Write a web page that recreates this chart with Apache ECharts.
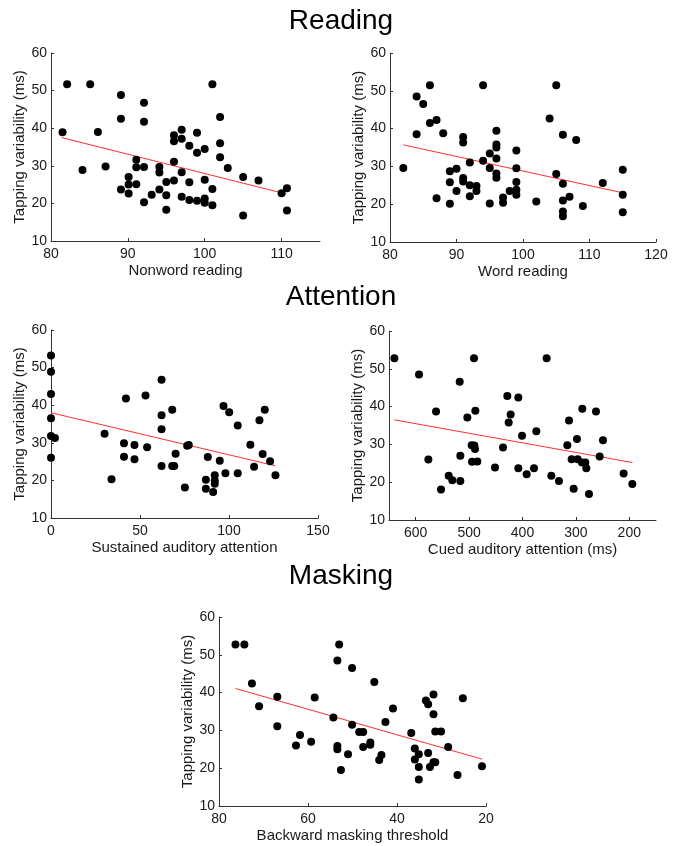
<!DOCTYPE html>
<html>
<head>
<meta charset="utf-8">
<script src="https://cdn.jsdelivr.net/npm/echarts@6/dist/echarts.min.js"></script>
<style>
html,body{margin:0;padding:0;background:#fff;}
#c{width:674px;height:846px;}
</style>
</head>
<body>
<div id="c"></div>
<script>
// ---- Data ----
var sectionTitles = ['Reading', 'Attention', 'Masking'];
var yAxisName = 'Tapping variability (ms)';
var yTicks = [10, 20, 30, 40, 50, 60];

// Panel 1: Nonword reading
var nonwordX = [81.5,82.1,85.1,84.1,86.1,87.1,89.1,89.1,89.1,90.1,90.1,90.1,91.1,91.1,91.1,92.1,92.1,92.1,92.1,93.1,94.1,94.1,94.1,95,95,95,96,96,96,96,97,97,97,97,98,98,98,99,99,99,100,100,100,100,101,101,101,102,102,102,103,105,105,107,110,110.7,110.7];
var nonwordY = [38.9,51.7,51.7,28.9,39.0,29.8,48.8,42.5,23.7,27.0,25.0,22.6,31.6,29.6,25.1,46.8,41.7,29.7,20.3,22.3,29.7,28.2,23.7,25.7,22.2,18.3,38.1,36.5,31.1,26.1,39.6,37.2,28.3,21.8,35.3,25.6,20.9,38.8,33.5,20.7,34.5,26.3,21.3,20.2,51.7,23.8,19.5,43.0,36.0,32.3,29.4,27.0,16.8,26.1,22.7,24.0,18.1];
var nonwordFitX = [81.4, 110.6];
var nonwordFitY = [37.5, 22.5];
var nonwordTicks = [80, 90, 100, 110];

// Panel 2: Word reading
var wordX = [82,84,84,85,86,86,87,87,88,89,89,89,90,90,91,91,91,91,92,92,92,93,93,94,94,95,95,95,96,96,96,96,96,96,97,97,98,99,99,99,99,99,102,104,105,105,106,106,106,106,106,107,108,109,112,115,115,115];
var wordY = [29.6,48.5,38.5,46.5,51.5,41.5,42.3,21.6,38.8,28.7,25.8,20.1,29.4,23.5,37.8,36.3,26.9,26.0,31.0,25.0,22.1,24.8,23.5,51.5,31.5,33.4,29.6,20.2,39.4,35.8,35.0,32.1,28.1,27.0,21.8,20.4,23.5,34.2,29.5,25.9,23.8,22.5,20.7,42.7,51.5,28.0,38.4,25.4,21.0,18.1,16.8,22.0,37.0,19.5,25.6,29.1,22.5,17.9];
var wordFitX = [82, 115.3];
var wordFitY = [35.7, 22.9];
var wordTicks = [80, 90, 100, 110, 120];

// Panel 3: Sustained auditory attention
var sustX = [0,0,0,0,0,0,2.2,30.1,34.0,41.0,41.0,42.1,46.9,46.9,53.1,54.0,62.1,62.1,62.1,62.1,68.1,68.1,69.2,70.0,75.2,76.5,77.4,87.0,87.0,88.1,91.1,92.0,92.0,92.0,94.8,96.9,98.0,100.1,104.9,104.9,112.0,114.1,117.1,118.9,120.1,123.1,126.1];
var sustY = [53.2,48.9,43.0,36.5,31.8,26.0,31.3,32.4,20.3,29.9,26.3,41.8,29.4,25.6,42.6,28.8,46.8,37.3,33.6,23.8,38.8,23.8,23.8,27.1,18.1,29.2,29.4,20.2,17.8,26.2,16.9,21.4,20.0,19.1,25.2,39.8,21.9,38.1,34.6,21.9,29.5,23.6,36.0,27.0,38.8,25.1,21.4];
var sustFitX = [0, 126];
var sustFitY = [38.0, 23.9];
var sustTicks = [0, 50, 100, 150];

// Panel 4: Cued auditory attention (ms)
var cuedX = [639.9,490.8,354.8,593.8,517.6,428.4,407.8,561.9,488.3,288.0,262.4,422.2,503.3,312.9,425.9,374.1,400.9,298.0,249.3,316.1,495.2,490.2,488.9,436.5,516.4,255.5,576.3,308.0,296.7,494.5,484.6,288.6,282.4,451.5,407.8,378.5,280.5,210.6,392.2,538.2,346.0,531.4,516.4,331.7,194.4,304.2,552.6,275.5];
var cuedY = [52.8,52.8,52.8,48.5,46.6,42.8,42.4,38.7,38.9,39.4,38.7,37.9,37.1,36.3,35.8,33.5,32.3,31.4,31.1,29.8,29.8,29.7,28.8,29.2,27.0,26.8,26.0,26.1,26.1,25.4,25.5,25.2,25.2,23.9,23.7,23.7,23.7,22.3,22.1,21.7,21.7,20.5,20.3,20.3,19.5,18.3,18.1,16.9];
var cuedFitX = [640, 194.4];
var cuedFitY = [36.5, 25.2];
var cuedTicks = [200, 300, 400, 500, 600];

// Panel 5: Backward masking threshold
var maskX = [76.3,74.3,72.6,71.0,66.9,66.9,62.7,61.8,59.3,58.5,54.3,53.4,53.4,53.4,53.0,52.6,51.0,50.1,50.1,48.5,47.6,47.6,46.0,46.0,45.1,44.0,43.5,42.6,40.9,36.8,36.0,36.0,35.1,35.1,35.1,33.5,33.0,33.0,32.6,31.8,31.4,31.8,31.8,31.4,30.1,28.5,26.4,25.2,20.9];
var maskY = [52.7,52.7,42.4,36.4,38.9,31.1,26.0,28.8,27.0,38.7,33.4,25.9,25.0,48.5,52.7,19.5,23.7,46.5,31.5,29.6,29.6,25.6,26.8,26.2,42.8,22.2,23.5,32.2,35.8,29.3,25.2,22.3,23.7,20.3,17.0,37.9,36.9,24.0,20.3,21.6,21.6,39.5,34.3,29.7,29.7,25.6,18.2,38.5,20.5];
var maskFitX = [76.3, 20.9];
var maskFitY = [41.1, 22.4];
var maskTicks = [20, 40, 60, 80];

// ---- Build ----
function zip(xs, ys){ return xs.map(function(x,i){ return [x, ys[i]]; }); }

var FONT = "'Liberation Sans', Arial, sans-serif";
var TXT = '#1a1a1a';

var panels = [
  {x: nonwordX, y: nonwordY, fx: nonwordFitX, fy: nonwordFitY, ticks: nonwordTicks, min: 80, max: 115, inv: false, name: 'Nonword reading', grid: {left: 51, top: 53, width: 269, height: 188}},
  {x: wordX, y: wordY, fx: wordFitX, fy: wordFitY, ticks: wordTicks, min: 80, max: 120, inv: false, name: 'Word reading', grid: {left: 390, top: 53, width: 266, height: 189}},
  {x: sustX, y: sustY, fx: sustFitX, fy: sustFitY, ticks: sustTicks, min: 0, max: 150, inv: false, name: 'Sustained auditory attention', grid: {left: 51, top: 330, width: 267, height: 188}},
  {x: cuedX, y: cuedY, fx: cuedFitX, fy: cuedFitY, ticks: cuedTicks, min: 150, max: 650, inv: true, name: 'Cued auditory attention (ms)', grid: {left: 389, top: 331, width: 267, height: 189}},
  {x: maskX, y: maskY, fx: maskFitX, fy: maskFitY, ticks: maskTicks, min: 20, max: 80, inv: true, name: 'Backward masking threshold', grid: {left: 219, top: 617, width: 267, height: 189}}
];

var grids = [], xAxes = [], yAxes = [], series = [];
panels.forEach(function(p, i){
  grids.push(p.grid);
  xAxes.push({
    gridIndex: i, type: 'value', min: p.min, max: p.max, inverse: p.inv,
    name: p.name, nameLocation: 'middle', nameGap: 22,
    nameTextStyle: {fontFamily: FONT, fontSize: 15, color: TXT},
    axisLine: {show: true, onZero: false, lineStyle: {color: '#333', width: 1}},
    axisTick: {show: true, inside: true, length: 3, customValues: p.ticks, lineStyle: {color: '#333'}},
    axisLabel: {customValues: p.ticks, fontFamily: FONT, fontSize: 14, color: TXT, margin: 6},
    splitLine: {show: false}
  });
  yAxes.push({
    gridIndex: i, type: 'value', min: 10, max: 60,
    name: yAxisName, nameLocation: 'middle', nameGap: 24,
    nameTextStyle: {fontFamily: FONT, fontSize: 15, color: TXT},
    axisLine: {show: true, onZero: false, lineStyle: {color: '#333', width: 1}},
    axisTick: {show: true, inside: true, length: 3, customValues: yTicks, lineStyle: {color: '#333'}},
    axisLabel: {customValues: yTicks, fontFamily: FONT, fontSize: 14, color: TXT, margin: 4},
    splitLine: {show: false}
  });
  series.push({
    type: 'scatter', xAxisIndex: i, yAxisIndex: i, data: zip(p.x, p.y),
    symbol: 'circle', symbolSize: 8, itemStyle: {color: '#000', opacity: 1}, silent: true, z: 3
  });
  series.push({
    type: 'line', xAxisIndex: i, yAxisIndex: i, data: zip(p.fx, p.fy),
    showSymbol: false, silent: true, lineStyle: {color: '#ff3030', width: 1}, z: 2, animation: false
  });
});

var titleTops = [7, 283, 562];
var titles = sectionTitles.map(function(t, i){
  return {text: t, left: 341, top: titleTops[i], textAlign: 'center', padding: 0,
    textStyle: {fontFamily: FONT, fontSize: 28, fontWeight: 'normal', color: '#000'}};
});

var chart = echarts.init(document.getElementById('c'));
chart.setOption({
  animation: false,
  backgroundColor: '#fff',
  title: titles,
  grid: grids,
  xAxis: xAxes,
  yAxis: yAxes,
  series: series
});
</script>
</body>
</html>
